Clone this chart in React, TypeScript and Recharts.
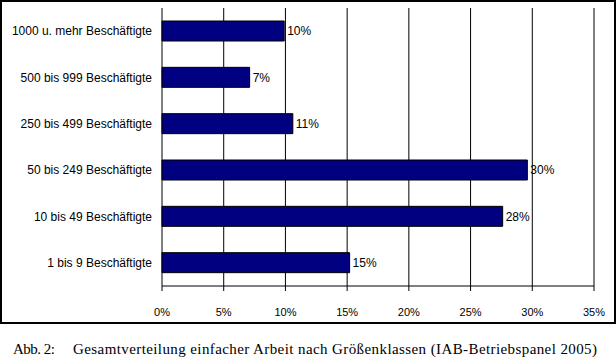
import React from "react";
import {
  BarChart,
  Bar,
  XAxis,
  YAxis,
  CartesianGrid,
  ReferenceLine,
  LabelList,
} from "recharts";

const categories = [
  "1000 u. mehr Beschäftigte",
  "500 bis 999 Beschäftigte",
  "250 bis 499 Beschäftigte",
  "50 bis 249 Beschäftigte",
  "10 bis 49 Beschäftigte",
  "1 bis 9 Beschäftigte",
];
const shares = [9.9, 7.1, 10.6, 29.6, 27.6, 15.2];
const shareLabels = ["10%", "7%", "11%", "30%", "28%", "15%"];
const xTicks = [0, 5, 10, 15, 20, 25, 30, 35];
const bandTicks = [0, 1, 2, 3, 4, 5, 6];

const captionNo = "Abb. 2:";
const caption =
  "Gesamtverteilung einfacher Arbeit nach Größenklassen (IAB-Betriebspanel 2005)";

const font = "Arial, 'Liberation Sans', sans-serif";
const serif = "'Liberation Serif', 'Times New Roman', serif";

// single-line category label (the default tick wraps long names)
function CategoryTick({ x, y, payload }: any) {
  return (
    <text
      x={x}
      y={y}
      dy="0.355em"
      textAnchor="end"
      fill="#000"
      fontSize={12}
      fontFamily={font}
    >
      {payload.value}
    </text>
  );
}

export default function App() {
  const data = categories.map((name, i) => ({
    name,
    value: shares[i],
    label: shareLabels[i],
  }));

  return (
    <div
      style={{
        position: "absolute",
        left: 0,
        top: 0,
        width: 616,
        height: 358,
        background: "#fff",
      }}
    >
      <BarChart
        width={616}
        height={324}
        data={data}
        layout="vertical"
        margin={{ top: 8, right: 22, bottom: 0, left: 0 }}
        style={{ position: "absolute", left: 0, top: 0 }}
      >
        <CartesianGrid horizontal={false} stroke="#000" />
        <XAxis
          type="number"
          domain={[0, 35]}
          ticks={xTicks}
          tickFormatter={(v) => `${v}%`}
          height={38}
          tickSize={5}
          tickMargin={17}
          stroke="#000"
          tick={{ fill: "#000", fontSize: 11, fontFamily: font }}
          interval={0}
        />
        {/* plain number axis, only for the boundary ticks between the groups */}
        <YAxis
          yAxisId={0}
          type="number"
          domain={[0, 6]}
          ticks={bandTicks}
          width={0}
          tick={false}
          tickSize={5}
          stroke="#000"
          interval={0}
        />
        <YAxis
          yAxisId="cat"
          type="category"
          dataKey="name"
          width={162}
          axisLine={false}
          tickLine={false}
          tickSize={5}
          tickMargin={5}
          interval={0}
          tick={<CategoryTick />}
        />
        <ReferenceLine x={35} stroke="#808080" />
        <ReferenceLine y={6} stroke="#808080" />
        <Bar
          yAxisId="cat"
          dataKey="value"
          fill="#000080"
          stroke="#000"
          strokeWidth={1}
          barSize={20}
          isAnimationActive={false}
        >
          <LabelList
            dataKey="label"
            position="right"
            offset={3}
            fill="#000"
            fontSize={12}
            fontFamily={font}
          />
        </Bar>
      </BarChart>
      <div
        style={{
          position: "absolute",
          left: 0,
          top: 0,
          width: 616,
          height: 324,
          border: "2px solid #000",
          boxSizing: "border-box",
          pointerEvents: "none",
        }}
      />
      <svg
        width={616}
        height={34}
        style={{ position: "absolute", left: 0, top: 324 }}
      >
        <text
          x={13}
          y={30}
          fontFamily={serif}
          fontSize={15}
          fill="#000"
          textLength={42}
          lengthAdjust="spacing"
        >
          {captionNo}
        </text>
        <text
          x={73}
          y={30}
          fontFamily={serif}
          fontSize={15}
          fill="#000"
          textLength={524}
          lengthAdjust="spacing"
        >
          {caption}
        </text>
      </svg>
    </div>
  );
}
